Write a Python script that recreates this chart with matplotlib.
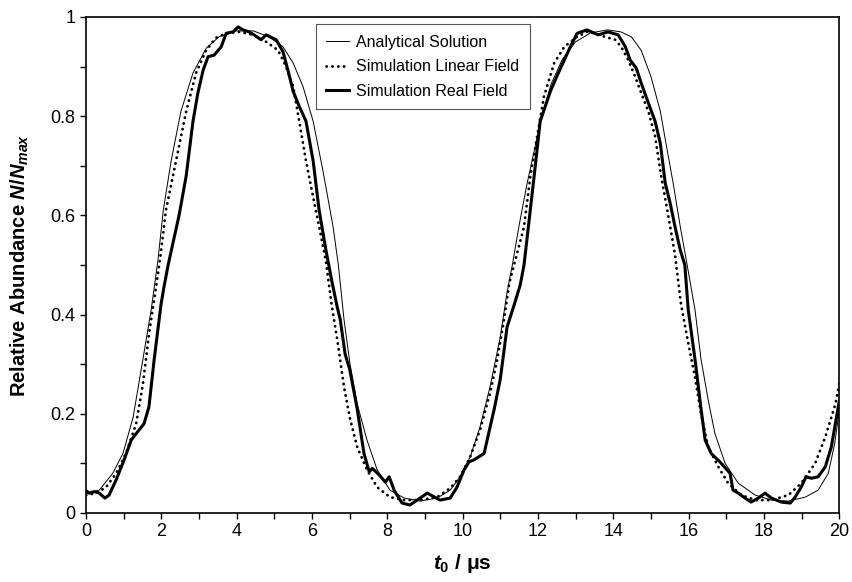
"""
Relative abundance vs t0 - analytical solution and two simulations
"""

import matplotlib
matplotlib.use('Agg')
import matplotlib.pyplot as plt
from matplotlib.ticker import MultipleLocator, FuncFormatter

# Data
t_analytical = [0.0, 0.35, 0.71, 0.98, 1.25, 1.51, 1.73, 1.91, 2.05, 2.26, 2.52, 2.84,
                3.19, 3.53, 3.98, 4.44, 4.86, 5.23, 5.50, 5.76, 6.03, 6.29, 6.56, 6.70,
                6.85, 7.01, 7.20, 7.46, 7.73, 8.07, 8.45, 8.87, 9.32, 9.67, 9.93, 10.20,
                10.46, 10.73, 11.00, 11.18, 11.32, 11.50, 11.70, 11.90, 12.10, 12.35,
                12.65, 13.00, 13.40, 13.85, 14.20, 14.48, 14.74, 15.00, 15.25, 15.40,
                15.59, 15.78, 15.95, 16.17, 16.33, 16.52, 16.70, 16.97, 17.32, 17.77,
                18.20, 18.65, 19.10, 19.44, 19.71, 19.88, 20.00]
y_analytical = [0.040, 0.046, 0.080, 0.120, 0.193, 0.310, 0.410, 0.510, 0.610, 0.710,
                0.810, 0.887, 0.937, 0.960, 0.972, 0.972, 0.960, 0.940, 0.907, 0.860,
                0.790, 0.690, 0.577, 0.500, 0.390, 0.300, 0.220, 0.147, 0.087, 0.046,
                0.030, 0.024, 0.030, 0.046, 0.073, 0.113, 0.173, 0.255, 0.355, 0.445,
                0.500, 0.580, 0.660, 0.730, 0.800, 0.865, 0.915, 0.950, 0.968, 0.974,
                0.970, 0.960, 0.933, 0.880, 0.810, 0.745, 0.665, 0.577, 0.505, 0.410,
                0.310, 0.228, 0.160, 0.100, 0.060, 0.036, 0.026, 0.024, 0.032, 0.046,
                0.080, 0.140, 0.205]

t_linear = [0.0, 0.27, 0.53, 0.80, 1.06, 1.33, 1.51, 1.67, 1.86, 1.97, 2.12, 2.39, 2.66,
            2.92, 3.19, 3.45, 3.72, 4.06, 4.44, 4.78, 5.10, 5.31, 5.50, 5.66, 5.84, 6.03,
            6.19, 6.37, 6.52, 6.67, 6.85, 7.01, 7.20, 7.46, 7.73, 8.07, 8.45, 8.87, 9.32,
            9.67, 9.93, 10.20, 10.46, 10.73, 10.92, 11.10, 11.24, 11.40, 11.63, 11.80,
            11.98, 12.16, 12.43, 12.70, 13.04, 13.30, 13.52, 13.78, 14.05, 14.21, 14.40,
            14.58, 14.74, 14.93, 15.11, 15.27, 15.46, 15.64, 15.80, 15.99, 16.17, 16.33,
            16.52, 16.79, 17.05, 17.40, 17.77, 18.20, 18.65, 18.99, 19.36, 19.63, 19.90,
            20.00]
y_linear = [0.036, 0.040, 0.052, 0.080, 0.120, 0.180, 0.260, 0.360, 0.456, 0.515, 0.610,
            0.710, 0.810, 0.887, 0.933, 0.958, 0.967, 0.970, 0.964, 0.950, 0.933, 0.900,
            0.860, 0.790, 0.710, 0.637, 0.577, 0.507, 0.420, 0.350, 0.254, 0.190, 0.133,
            0.087, 0.052, 0.032, 0.026, 0.026, 0.032, 0.050, 0.073, 0.113, 0.167, 0.242,
            0.310, 0.390, 0.464, 0.510, 0.577, 0.680, 0.760, 0.840, 0.907, 0.940, 0.960,
            0.970, 0.967, 0.960, 0.954, 0.940, 0.913, 0.880, 0.847, 0.810, 0.760, 0.680,
            0.600, 0.520, 0.420, 0.343, 0.274, 0.200, 0.133, 0.093, 0.060, 0.036, 0.026,
            0.026, 0.036, 0.060, 0.100, 0.153, 0.220, 0.260]

t_real = [0.00, 0.08, 0.22, 0.35, 0.50, 0.61, 0.80, 1.01, 1.20, 1.33, 1.54, 1.67, 1.81,
          1.99, 2.07, 2.18, 2.31, 2.47, 2.66, 2.84, 2.97, 3.11, 3.24, 3.40, 3.59, 3.72,
          3.90, 4.04, 4.17, 4.33, 4.46, 4.65, 4.78, 5.05, 5.23, 5.37, 5.50, 5.66, 5.84,
          6.03, 6.19, 6.37, 6.52, 6.67, 6.75, 6.88, 7.00, 7.20, 7.38, 7.52, 7.60, 7.78,
          7.95, 8.05, 8.18, 8.39, 8.60, 8.87, 9.06, 9.40, 9.67, 9.85, 10.04, 10.17, 10.30,
          10.57, 10.84, 11.00, 11.18, 11.37, 11.53, 11.63, 11.90, 12.06, 12.33, 12.50,
          12.86, 13.04, 13.30, 13.60, 13.86, 14.13, 14.32, 14.45, 14.61, 14.74, 14.93,
          15.11, 15.25, 15.38, 15.51, 15.64, 15.78, 15.90, 15.99, 16.17, 16.33, 16.44,
          16.60, 16.87, 17.10, 17.18, 17.32, 17.50, 17.66, 17.85, 18.03, 18.20, 18.46,
          18.70, 18.83, 18.99, 19.12, 19.26, 19.44, 19.63, 19.79, 19.92, 20.00]
y_real = [0.045, 0.040, 0.043, 0.040, 0.030, 0.036, 0.067, 0.107, 0.147, 0.160, 0.180,
          0.214, 0.310, 0.420, 0.456, 0.500, 0.545, 0.600, 0.680, 0.790, 0.847, 0.893,
          0.920, 0.923, 0.940, 0.967, 0.970, 0.980, 0.974, 0.970, 0.964, 0.954, 0.964,
          0.954, 0.930, 0.890, 0.850, 0.820, 0.790, 0.710, 0.610, 0.530, 0.470, 0.415,
          0.390, 0.320, 0.290, 0.210, 0.120, 0.083, 0.090, 0.077, 0.062, 0.073, 0.046,
          0.020, 0.016, 0.030, 0.040, 0.026, 0.030, 0.052, 0.087, 0.103, 0.107, 0.120,
          0.210, 0.270, 0.375, 0.420, 0.460, 0.500, 0.680, 0.790, 0.850, 0.880, 0.940,
          0.967, 0.974, 0.964, 0.970, 0.964, 0.940, 0.913, 0.897, 0.867, 0.827, 0.790,
          0.745, 0.665, 0.625, 0.577, 0.530, 0.500, 0.410, 0.310, 0.210, 0.147, 0.120,
          0.100, 0.080, 0.046, 0.040, 0.030, 0.022, 0.030, 0.040, 0.030, 0.022, 0.020,
          0.032, 0.052, 0.073, 0.070, 0.073, 0.093, 0.133, 0.190, 0.225]

x_ticks = [0, 2, 4, 6, 8, 10, 12, 14, 16, 18, 20]
y_ticks = [0, 0.2, 0.4, 0.6, 0.8, 1.0]

plt.rcParams['font.family'] = ['Liberation Sans', 'DejaVu Sans']
plt.rcParams['mathtext.fontset'] = 'custom'
plt.rcParams['mathtext.rm'] = 'Liberation Sans:bold'
plt.rcParams['mathtext.it'] = 'Liberation Sans:bold:italic'
plt.rcParams['mathtext.bf'] = 'Liberation Sans:bold'

fig = plt.figure(figsize=(8.52, 5.82), dpi=100)
ax = fig.add_axes([0.101, 0.1186, 0.884, 0.8522])

ax.plot(t_analytical, y_analytical, color='black', lw=0.7, label='Analytical Solution')
ax.plot(t_linear, y_linear, color='black', lw=2.0, ls=(0, (0.1, 2.0)),
        dash_capstyle='round', label='Simulation Linear Field')
ax.plot(t_real, y_real, color='black', lw=2.2, label='Simulation Real Field')

ax.set_xlim(0, 20)
ax.set_ylim(0, 1)
ax.set_xticks(x_ticks)
ax.set_yticks(y_ticks)
ax.xaxis.set_minor_locator(MultipleLocator(1))
ax.yaxis.set_minor_locator(MultipleLocator(0.1))
ax.yaxis.set_major_formatter(FuncFormatter(lambda v, p: f'{v:g}'))
ax.tick_params(which='both', direction='out', labelsize=13, width=1, length=4)
ax.tick_params(which='minor', length=4)
for s in ax.spines.values():
    s.set_linewidth(1.2)

ax.set_xlabel(r'$t_0$ / μs', fontsize=15, fontweight='bold', labelpad=8)
ax.set_ylabel(r'Relative Abundance $N/N_{max}$', fontsize=14.5, fontweight='bold', labelpad=14)

leg = ax.legend(loc='upper left', bbox_to_anchor=(0.305, 0.985), borderaxespad=0,
                fontsize=11.5, fancybox=False, edgecolor='#555555', framealpha=1,
                handlelength=1.4, handletextpad=0.5, borderpad=0.65, labelspacing=0.6)
leg.get_frame().set_linewidth(0.8)

fig.savefig('out.png', dpi=100)
